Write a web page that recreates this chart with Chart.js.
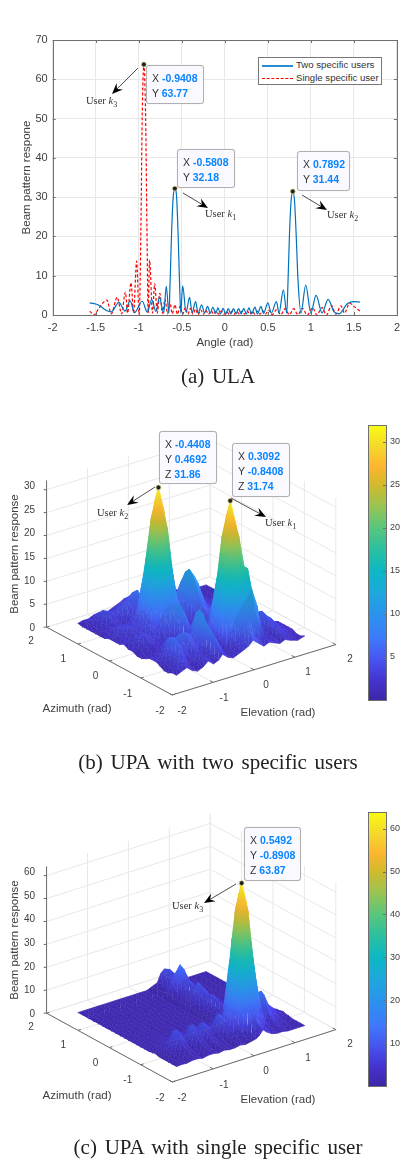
<!DOCTYPE html>
<html>
<head>
<meta charset="utf-8">
<script src="https://cdn.jsdelivr.net/npm/chart.js@4"></script>
<style>
html, body { margin: 0; background: #fff; }
#page { position: relative; width: 406px; height: 1161px; overflow: hidden; font-family: 'Liberation Sans', sans-serif; color: #404040; }
canvas { position: absolute; }
#page div { position: absolute; white-space: nowrap; }
.cap { font-family: 'Liberation Serif', serif; font-size: 21px; color: #222; word-spacing: 2.5px; transform: translate(-50%, -50%); }
.tick { font-size: 10px; transform: translate(-50%, -50%); }
.ztick { font-size: 10px; transform: translate(-100%, -50%); }
.atitle { font-size: 11.5px; transform: translate(-50%, -50%); }
.vtitle { font-size: 11.5px; transform: translate(-50%, -50%) rotate(-90deg); }
.user { font-family: 'Liberation Serif', serif; font-size: 10.5px; color: #333; transform: translateY(-50%); }
.user sub { font-size: 8px; }
.tip { box-sizing: border-box; background: #f9f9ff; border: 1px solid #b0b0b0; border-radius: 3px; font-size: 10.5px; line-height: 15px; padding: 5px 0 0 5px; color: #333; box-shadow: 0 0 1px #ccc; }
.tip b { color: #0a84ff; }
.legend { box-sizing: border-box; border: 1px solid #777; background: #fff; font-size: 9.6px; color: #333; }
</style>
</head>
<body>
<div id="page"></div>
<script>
// top panel, ULA
const blueX = [-1.57,-1.5,-1.45,-1.38,-1.32,-1.23,-1.16,-1.1,-1.05,-0.96,-0.9,-0.85,-0.8,-0.76,-0.71,-0.68,-0.65,-0.635,-0.617,-0.6,-0.5808,-0.56,-0.545,-0.527,-0.512,-0.49,-0.45,-0.41,-0.38,-0.34,-0.31,-0.27,-0.235,-0.2,-0.17,-0.14,-0.105,-0.08,-0.05,-0.02,0.01,0.04,0.07,0.1,0.13,0.16,0.19,0.22,0.25,0.28,0.31,0.35,0.38,0.42,0.45,0.5,0.54,0.6,0.63,0.68,0.72,0.735,0.752,0.77,0.7892,0.81,0.828,0.85,0.885,0.94,1.0,1.06,1.13,1.2,1.27,1.33,1.42,1.5,1.57];
const blueY = [3.1,2.8,2.3,1.2,0.8,3.2,1,3.6,0.6,3.5,0.7,3.9,0.9,4.5,0.5,7.3,0.5,9,22,30,32.18,30,22,9,0.5,7.4,0.7,4.5,0.6,3.4,0.5,2.6,0.5,2.2,0.4,2,0.4,1.8,0.3,1.7,0.3,1.6,0.3,1.6,0.3,1.6,0.3,1.7,0.3,1.8,0.3,2,0.3,2.2,0.4,3.1,0.5,3.4,0.5,6.4,0.5,9,21,29,31.44,29,21,9,0.5,7.6,0.5,5,0.5,4,0.8,0.3,2.8,3.4,3.3];
const redX = [-1.57,-1.52,-1.47,-1.37,-1.32,-1.25,-1.2,-1.155,-1.13,-1.09,-1.06,-1.025,-0.995,-0.975,-0.96,-0.9408,-0.92,-0.905,-0.89,-0.875,-0.84,-0.815,-0.785,-0.755,-0.725,-0.695,-0.665,-0.64,-0.61,-0.58,-0.55,-0.52,-0.49,-0.46,-0.43,-0.4,-0.37,-0.34,-0.31,-0.28,-0.25,-0.22,-0.19,-0.16,-0.13,-0.1,-0.07,-0.04,-0.01,0.02,0.05,0.08,0.11,0.14,0.17,0.2,0.23,0.26,0.29,0.32,0.35,0.38,0.41,0.44,0.47,0.51,0.55,0.6,0.65,0.7,0.75,0.8,0.85,0.9,0.96,1.02,1.07,1.13,1.18,1.24,1.29,1.35,1.39,1.45,1.5,1.57];
const redY = [1,0,1.5,3.8,0.3,4.5,0.3,5.8,0.5,8.2,0.5,13.7,0,22,50,63.77,50,22,0.5,14,0.5,8,0.4,5.5,0.4,4,0.3,3.3,0.3,2.6,0.2,2.2,0.2,1.9,0.2,1.7,0.2,1.5,0.1,1.3,0.2,1.2,0.2,1.1,0.2,1,0.2,1,0.2,0.9,0.2,0.9,0.2,0.9,0.2,1,0.2,1,0.2,1,0.2,1,0.2,1.1,0.2,1.2,0.1,1.3,0.1,1.6,0.1,1.6,0.1,1.7,0,1.8,0,1.9,0,2.4,0.2,2.3,0.5,3,2.2,1];
const ulaTipsX = [-0.9408, -0.5808, 0.7892];
const ulaTipsY = [63.77, 32.18, 31.44];
const ulaXTicks = [-2, -1.5, -1, -0.5, 0, 0.5, 1, 1.5, 2];

// panel b surface, rows follow azimuth, columns follow elevation
const elevationB = [-1.57,-1.44,-1.31,-1.18,-1.05,-0.92,-0.79,-0.66,-0.53,-0.44,-0.31,-0.18,-0.05,0.08,0.19,0.31,0.44,0.57,0.7,0.83,0.96,1.09,1.22,1.4,1.57];
const azimuthB = [-1.57,-1.44,-1.31,-1.18,-1.05,-0.94,-0.84,-0.74,-0.6,-0.46,-0.32,-0.18,-0.04,0.1,0.24,0.36,0.47,0.58,0.72,0.86,1,1.14,1.28,1.42,1.57];
const responseB = [
[1.5,2,2.5,1.5,1,1.5,2.5,1.5,2,3,2,1.5,2,2.5,3,4,3,2,2.5,2,1.5,2,1.5,1,1.5],
[1.5,2.5,3,2,1,2,3,2,2.5,4,2.5,1.5,2,3,4,6,4,3,3,2,2,2.5,2,1,1],
[1,2,3.5,3,1.5,2.5,3.5,2,3,6,3.5,1.5,2,3,4,6,7,8,5,1.5,2,3,2.5,1.5,1],
[1,1.5,3,5,2.5,2,3,2,3,7,4,1,2,5,8,9.5,11,13,9,2,2,3,3,2,1.5],
[1.5,2,3,6,4,3,4,3,4,8,4,1.5,2.5,11,17,20.6,18,17,10,3,2.5,4,3.5,2,1.5],
[2,2.5,3.5,6,5,5,5,4,6,9.5,5,2,3.5,16,24,28.6,24,17,8,3,3,5,4,2,1.5],
[2,2.5,3,6,5.5,6,6,5,7,10,6,2.5,3.5,17.5,26.6,31.74,26.4,18,9,4,3.5,5.5,4,2,1.5],
[2,2,2.5,5,4.5,5,5,4,6,9,5,2.5,3.5,16,24,28.6,23,14,7,3,3,5,3.5,2,1.5],
[1.5,1.5,2,3,3,3,3,3,4,6,4,2,3,10,15,17.5,14.5,9,5,2,2,3.5,3,1.5,1],
[1,1,1.5,2,2,2,2,2,3,4,3,1.5,2,4.5,7,8,6.5,4,2.5,1,1.5,2.5,2,1.5,1],
[1,1.5,2,2.5,2,2,2.5,3,5,8,5,2,2,3,6,8,5,3,2,1.5,2,2.5,2,1.5,1],
[1.5,2,2.5,3,2.5,2.5,3,4,6,9,6,2.5,1.5,2,3,4,3,2,1.5,2,2.5,3,2.5,1.5,1],
[1.5,2,3,3.5,3,3,4,6,8,8,5,2.5,1.5,2,3,5,4,2.5,2,2.5,3,3,2.5,1.5,1],
[2,2.5,3,3,3,4,3,5,7,8,6,3.5,2,2.5,4,6,5,3,2,2,2.5,2.5,2,1.5,1],
[1.5,2,2,2.5,3,4,4,11,17,18.5,15.4,8.7,3.5,4,7,9,7,4,2.5,2,2,2,1.5,1,1],
[1.5,2,2.5,3,3,3.5,5.5,16.5,25,27.7,23,13,4.5,5,9,11,9,5,3,2.5,2,2,1.5,1,1],
[1.5,2.5,3,3.5,3,3.5,6,19,29,31.86,26.5,15,5,6,10,12,10,6,3.5,3,2.5,2,1.5,1,1],
[1.5,2,3,3.5,3,3.5,5.5,16.5,25,27.7,23,13,4.5,5,9,11,9,5,3,2.5,2,2,1.5,1,1],
[1,2,2.5,3,2.5,3,4,10,15,16.6,13.8,7.8,3,3,6,8,6,3.5,2,2,2,2,1.5,1,1],
[1,1.5,2,2.5,2,2,3,4,5.5,6.5,5,3,2,2,4,5,4,2.5,2,2,2,1.5,1.5,1,1],
[1,1.5,2,3,3,3,4,4,5,6,4,2,2,2.5,3.5,5,4,3,2.5,2.5,2,1.5,1,1,1],
[1,1.5,2.5,4,4,4,5,5,6,7,4,2.5,2.5,3,3,4,3.5,3,3,3,2,1.5,1,1,1],
[1,1.5,2.5,4,3.5,3,3.5,4,5,6,4,2.5,2.5,2.5,3,3.5,3,3,3,2.5,2,1.5,1,1,1],
[1,1.5,2,3,2.5,2,2.5,3,3.5,4.5,3,2,2,2,2,3,2.5,2,2,2,1.5,1,1,1,1],
[1.2,1.5,1.5,2,2,1.5,2,2.5,3,3.5,2.5,2,2,2,2,2.5,2,2,2,2,1.5,1,1,1,1]
];
const tipsB = [[-0.4408, 0.4692, 31.86], [0.3092, -0.8408, 31.74]];

// panel c surface
const elevationC = [-1.57,-1.44,-1.31,-1.18,-1.05,-0.92,-0.79,-0.66,-0.53,-0.4,-0.27,-0.14,-0.01,0.12,0.25,0.38,0.46,0.55,0.64,0.77,0.9,1.03,1.16,1.36,1.57];
const azimuthC = [-1.57,-1.44,-1.31,-1.18,-1.05,-0.97,-0.89,-0.81,-0.7,-0.57,-0.44,-0.31,-0.18,-0.05,0.08,0.22,0.36,0.5,0.64,0.78,0.92,1.07,1.22,1.4,1.57];
const responseC = [
[1,1.2,1,1.5,1.5,1,1.5,1.5,1,1.5,1,1,1.5,1,1.5,2,3,5,3.5,2,1.5,1.5,1,1,1],
[1,1.2,1.5,1.5,1.5,1,1.5,1.5,1,1.5,1.5,1,1.5,1.5,2,3,4,6,4,2.5,2,2,1.5,1,1],
[1,1.2,1.5,2,2,1.5,1.5,2,1.5,2,1.5,1.5,2,2,3,5,7,9,7,4,3,3,2,1,1],
[1,1.5,2,2.5,3,2,2,3,2,3,2,2,3,3,5,11,14,16,14,8,4,5,3,1.5,1],
[1,1.5,2,4,5.5,3.5,3.5,5,3.5,4.5,3.5,3.5,5.5,4,10,30,40,44.7,40,22,8.5,9,5,2,1.5],
[1.2,2,2.5,5,8,5,5,8,5.5,7.5,5,5,8.5,6,13,40,52,58.8,52,29,11,13,7,3,1.5],
[1.5,2,3,6,9,6,6,9,6,8.5,6,6,10,7,14,43,57,63.87,57,32,12,14,8,4,2],
[1.2,2,2.5,5,8,5,5,8,5.5,7.5,5,5,8.5,6,13,40,52,58.8,52,29,11,13,7,3,1.5],
[1,1.5,2,3.5,5,3.5,3.5,5,3.5,4.5,3.5,3.5,5.5,4,8.5,26,34,38,34,19,7,8,4.5,2,1.5],
[1,1.2,1.5,2,2.5,2,2,2.5,2,2.5,2,2,3,2.5,3.5,7,9,10,9,5,3,3.5,2,1,1],
[1,1,1.2,1.2,1.5,1,1.2,1.5,1.2,1.5,1.2,1.2,1.5,1.5,2,3,4,5,4,2.5,1.5,1.5,1,1,1],
[1,1,1.2,1.5,1.2,1,1.2,1.2,1,1.2,1,1,1.2,1.2,2,3,5,6,5,3,1.5,1.2,1,1,1],
[1,1,1,1.2,1.2,1,1,1.2,1,1.2,1,1,1.2,1.2,2,3,5,6,5,3,1.5,1.2,1,1,1],
[1,1,1,1,1.2,1,1,1.2,1,1,1,1,1,1.2,2,3,5.5,7,5.5,3,1.5,1.2,1,1,1],
[1,1,1,1,1,1,1,1,1,1,1,1,1,1.2,2,3.5,6.5,8,6.5,3.5,1.5,1,1,1,1],
[1,1,1,1,1,1,1,1,1,1,1,1,1,1,1.5,2.5,5,6,5,2.5,1.2,1,1,1,1],
[1,1,1,1,1,1,1,1,1,1,1,1,1,1.2,2,3.5,7,9,7,3.5,1.5,1,1,1,1],
[1,1,1,1,1,1,1,1,1,1,1,1,1,1.2,2.5,4,8,10,8,4,1.5,1,1,1,1],
[1,1,1,1,1,1,1,1,1,1,1,1,1,1,2,3,5.5,7,5.5,3,1.2,1,1,1,1],
[1,1,1,1,1,1,1,1,1,1,1,1,1,1,2,3.5,7,9,7,3.5,1.2,1,1,1,1],
[1,1,1,1,1,1,1,1,1,1,1,1,1,1,2,3,6.5,8,6.5,3,1.2,1,1,1,1],
[1,1,1,1,1,1,1,1,1,1,1,1,1,1.2,3,5.5,11,13.5,11,5.5,1.5,1,1,1,1],
[1,1,1,1,1,1,1,1,1,1,1,1,1,1,2,3,6.5,8,6.5,3,1.2,1,1,1,1],
[1,1,1,1,1,1,1,1,1,1,1,1,1,1,2,3.5,7,9,7,3.5,1.2,1,1,1,1],
[1,1,1,1,1,1,1,1,1,1,1,1,1,1,2,3,6.5,8,6,3,1.2,1,1,1,1]
];
const tipsC = [[0.5492, -0.8908, 63.87]];

const axisTicks3d = [-2, -1, 0, 1, 2];
const zTicksB = [0, 5, 10, 15, 20, 25, 30];
const zTicksC = [0, 10, 20, 30, 40, 50, 60];

const page = document.getElementById('page');
const TICK_COLOR = '#404040', FRAME = '#707070', GRID3D = '#e8e8e8';

// colormap of the surfaces and colorbars
const cmapStops = [[0,'#3e26a8'],[0.07,'#4433ce'],[0.14,'#4751ee'],[0.22,'#3f78fb'],[0.31,'#2b92ee'],[0.39,'#1ea8dc'],[0.47,'#0cb8c4'],[0.55,'#2cc09f'],[0.63,'#5cc67a'],[0.71,'#9cc450'],[0.78,'#d0b92e'],[0.85,'#fdb62f'],[0.92,'#f5d82b'],[1,'#f9fb15']];
const hex = h => [1, 3, 5].map(i => parseInt(h.substr(i, 2), 16));
function colorAt(t, shade) {
    t = Math.max(0, Math.min(1, t));
    let i = 0;
    while (i < cmapStops.length - 2 && t > cmapStops[i + 1][0]) i++;
    const a = cmapStops[i], b = cmapStops[i + 1];
    const f = (t - a[0]) / (b[0] - a[0]);
    const ca = hex(a[1]), cb = hex(b[1]);
    const s = shade || 1;
    const c = ca.map((v, k) => Math.min(255, Math.round((v + (cb[k] - v) * f) * s)));
    return 'rgb(' + c.join(',') + ')';
}

function addHtml(cls, x, y, html, extra) {
    const d = document.createElement('div');
    d.className = cls;
    d.style.left = x + 'px';
    d.style.top = y + 'px';
    d.innerHTML = html;
    if (extra) Object.assign(d.style, extra);
    page.appendChild(d);
    return d;
}

function addCanvas(x, y, w, h) {
    const c = document.createElement('canvas');
    c.width = w; c.height = h;
    c.style.left = x + 'px'; c.style.top = y + 'px';
    c.style.width = w + 'px'; c.style.height = h + 'px';
    page.appendChild(c);
    return c;
}

// box and inward ticks, matlab style
const framePlugin = {
    id: 'frame',
    afterDraw(chart) {
        const { ctx, chartArea: a, scales } = chart;
        ctx.save();
        ctx.strokeStyle = FRAME; ctx.lineWidth = 1;
        ctx.strokeRect(Math.round(a.left) + 0.5, Math.round(a.top) + 0.5, Math.round(a.right - a.left), Math.round(a.bottom - a.top));
        ctx.beginPath();
        if (scales.x && scales.x.options.display) scales.x.ticks.forEach(t => {
            const p = Math.round(scales.x.getPixelForValue(t.value)) + 0.5;
            ctx.moveTo(p, a.bottom); ctx.lineTo(p, a.bottom - 3);
            ctx.moveTo(p, a.top); ctx.lineTo(p, a.top + 3);
        });
        scales.y.ticks.forEach(t => {
            const p = Math.round(scales.y.getPixelForValue(t.value)) + 0.5;
            ctx.moveTo(a.right, p); ctx.lineTo(a.right - 3, p);
            if (chart.config.type === 'line') { ctx.moveTo(a.left, p); ctx.lineTo(a.left + 3, p); }
        });
        ctx.stroke();
        ctx.restore();
    }
};

const zip = (xs, ys) => xs.map((x, i) => ({ x, y: ys[i] }));

function renderUla() {
    const canvas = addCanvas(0, 25, 406, 330);
    new Chart(canvas, {
        type: 'line',
        data: {
            datasets: [
                { label: 'markers', data: zip(ulaTipsX, ulaTipsY), showLine: false, pointRadius: 2.4, pointBackgroundColor: '#222', pointBorderColor: '#cfc87a', pointBorderWidth: 0.7 },
                { label: 'Two specific users', data: zip(blueX, blueY), borderColor: '#0072bd', borderWidth: 1.2, pointRadius: 0, cubicInterpolationMode: 'monotone' },
                { label: 'Single specific user', data: zip(redX, redY), borderColor: '#ff0000', borderWidth: 1.2, borderDash: [3, 2], pointRadius: 0, cubicInterpolationMode: 'monotone' },
            ],
        },
        options: {
            responsive: false, animation: false,
            layout: { padding: { top: 15, right: 6, bottom: 5, left: 0 } },
            plugins: { legend: { display: false }, tooltip: { enabled: false } },
            scales: {
                x: {
                    type: 'linear', min: -2, max: 2,
                    afterBuildTicks: s => { s.ticks = ulaXTicks.map(value => ({ value })); },
                    afterFit: s => { s.height = 35; },
                    ticks: { color: TICK_COLOR, font: { size: 11, family: 'Liberation Sans' }, padding: 6, maxRotation: 0, autoSkip: false, callback: v => String(v) },
                    grid: { color: '#e8e8e8', drawTicks: false }, border: { display: false },
                    title: { display: true, text: 'Angle (rad)', color: TICK_COLOR, font: { size: 11.5, family: 'Liberation Sans' }, padding: { top: 1, bottom: 0 } },
                },
                y: {
                    min: 0, max: 70,
                    afterFit: s => { s.width = 52.7; },
                    ticks: { color: TICK_COLOR, font: { size: 11, family: 'Liberation Sans' }, padding: 5, stepSize: 10 },
                    grid: { color: '#e8e8e8', drawTicks: false }, border: { display: false },
                    title: { display: true, text: 'Beam pattern respone', color: TICK_COLOR, font: { size: 11.5, family: 'Liberation Sans' }, padding: { top: 20, bottom: 0 } },
                },
            },
        },
        plugins: [framePlugin],
    });

    // legend
    const lg = addHtml('legend', 258, 57, '', { width: '124px', height: '28px' });
    lg.innerHTML = '<div style="left:3px;top:7px;width:31px;border-top:2px solid #2a8cd0"></div>' +
        '<div style="left:37px;top:1px">Two specific users</div>' +
        '<div style="left:3px;top:20px;width:31px;border-top:1.2px dashed #ff0000"></div>' +
        '<div style="left:37px;top:14px">Single specific user</div>';
}

function renderSurface(opts) {
    const { top, height, front, left, right, zScale, zTop, zTicks, elevation, azimuth, response, tips, zMax } = opts;
    const canvas = addCanvas(0, top, 360, height);
    const ctx = canvas.getContext('2d');
    const project = (e, a, z) => {
        const u = (e + 2) / 4, v = (a + 2) / 4;
        return {
            x: front[0] + u * (right[0] - front[0]) + v * (left[0] - front[0]),
            y: front[1] + u * (right[1] - front[1]) + v * (left[1] - front[1]) - z * zScale,
        };
    };
    const sets = [];

    // tips first so they land on top
    sets.push({ data: tips.map(t => project(t[0], t[1], t[2])), showLine: false, pointRadius: 2.4, pointBackgroundColor: '#222', pointBorderColor: '#cfc87a', pointBorderWidth: 0.7 });

    // a flat triangle has z linear on screen, so one linear gradient shades it exactly
    function triangle(v, shade) {
        const zs = v.map(k => k.z);
        const lo = Math.min(...zs), hi = Math.max(...zs);
        const [a, b, c] = v.map(k => k.p);
        const dx1 = b.x - a.x, dy1 = b.y - a.y, dz1 = zs[1] - zs[0];
        const dx2 = c.x - a.x, dy2 = c.y - a.y, dz2 = zs[2] - zs[0];
        const det = dx1 * dy2 - dx2 * dy1;
        let paint = colorAt((lo + hi) / 2 / zMax, shade);
        if (hi - lo >= 0.4 && Math.abs(det) >= 1) {
            const gx = (dz1 * dy2 - dz2 * dy1) / det, gy = (dx1 * dz2 - dx2 * dz1) / det;
            const g2 = gx * gx + gy * gy;
            const s = v[zs.indexOf(lo)].p;
            const k = (hi - lo) / g2;
            // a very short gradient line on a sliver paints nothing, keep the flat colour there
            if (Math.hypot(gx * k, gy * k) >= 1.5) {
                paint = ctx.createLinearGradient(s.x, s.y - top, s.x + gx * k, s.y - top + gy * k);
                const n = Math.max(2, Math.ceil((hi - lo) / zMax * 14));
                for (let i = 0; i <= n; i++) paint.addColorStop(i / n, colorAt((lo + (hi - lo) * i / n) / zMax, shade));
            }
        }
        // round joins, thin triangles throw long miter spikes otherwise
        sets.push({ data: v.map(k => k.p), backgroundColor: paint, borderColor: paint, borderWidth: 0.7, borderJoinStyle: 'round', pointRadius: 0, fill: 'shape' });
    }

    // quads, nearest first because chart.js paints the list backwards
    for (let r = 0; r < azimuth.length - 1; r++) {
        for (let c = 0; c < elevation.length - 1; c++) {
            const corners = [[c, r], [c + 1, r], [c + 1, r + 1], [c, r + 1]].map(([i, j]) => {
                const z = response[j][i];
                return { z, p: project(elevation[i], azimuth[j], z) };
            });
            const zs = corners.map(k => k.z);
            const span = Math.max(...zs) - Math.min(...zs);
            const dzde = ((zs[1] + zs[2]) - (zs[0] + zs[3])) / 2 / (elevation[c + 1] - elevation[c]);
            const dzda = ((zs[2] + zs[3]) - (zs[0] + zs[1])) / 2 / (azimuth[r + 1] - azimuth[r]);
            let sh = Math.max(-0.08, Math.min(0.1, -0.012 * dzde - 0.008 * dzda));
            if (span > 6) sh *= 0.25;
            const shade = 1 + sh;
            triangle([corners[0], corners[1], corners[2]], shade);
            triangle([corners[0], corners[2], corners[3]], shade);
        }
    }

    // front axes and their ticks
    const dark = '#6a6a6a';
    const seg = (a, b, color) => sets.push({ data: [a, b], borderColor: color, borderWidth: 1, pointRadius: 0 });
    seg(project(-2, 2, 0), project(-2, -2, 0), dark);
    seg(project(-2, -2, 0), project(2, -2, 0), dark);
    seg(project(-2, 2, 0), project(-2, 2, zTop), dark);
    axisTicks3d.forEach(t => {
        seg(project(-2, t, 0), project(-1.93, t, 0), dark);
        seg(project(t, -2, 0), project(t, -1.9, 0), dark);
    });
    zTicks.forEach(t => {
        const p = project(-2, 2, t);
        seg(p, { x: p.x - 3, y: p.y }, dark);
    });

    // walls and floor grid
    axisTicks3d.forEach(t => {
        seg(project(t, -2, 0), project(t, 2, 0), GRID3D);
        seg(project(-2, t, 0), project(2, t, 0), GRID3D);
        seg(project(t, 2, 0), project(t, 2, zTop), GRID3D);
        seg(project(2, t, 0), project(2, t, zTop), GRID3D);
    });
    zTicks.forEach(t => {
        seg(project(-2, 2, t), project(2, 2, t), GRID3D);
        seg(project(2, 2, t), project(2, -2, t), GRID3D);
    });

    new Chart(canvas, {
        type: 'line',
        data: { datasets: sets },
        options: {
            responsive: false, animation: false,
            layout: { padding: 0 },
            plugins: { legend: { display: false }, tooltip: { enabled: false } },
            scales: {
                x: { type: 'linear', display: false, min: 0, max: 360 },
                y: { type: 'linear', display: false, min: top, max: top + height, reverse: true },
            },
        },
    });

    // tick labels of the 3d axes
    axisTicks3d.forEach(t => {
        const a = project(-2, t, 0), e = project(t, -2, 0);
        addHtml('tick', a.x - 12, a.y + 11, String(t));
        addHtml('tick', e.x + 10, e.y + 11, String(t));
    });
    zTicks.forEach(t => {
        const p = project(-2, 2, t);
        addHtml('ztick', p.x - 8, p.y - 2, String(t));
    });
    addHtml('atitle', 77, front[1] + 9, 'Azimuth (rad)');
    addHtml('atitle', 278, front[1] + 13, 'Elevation (rad)');
    addHtml('vtitle', 13.5, opts.titleY, 'Beam pattern response');
}

function renderColorbar(top, height, zMax, step) {
    const canvas = addCanvas(340, top - 10, 66, height + 20);
    new Chart(canvas, {
        type: 'bar',
        data: {
            labels: ['level'],
            datasets: [{
                data: [[0, zMax]], barPercentage: 1, categoryPercentage: 1, borderWidth: 0,
                backgroundColor: c => {
                    const area = c.chart.chartArea;
                    if (!area) return '#3e26a8';
                    const g = c.chart.ctx.createLinearGradient(0, area.bottom, 0, area.top);
                    cmapStops.forEach(s => g.addColorStop(s[0], s[1]));
                    return g;
                },
            }],
        },
        options: {
            responsive: false, animation: false,
            layout: { padding: { top: 10, bottom: 10, left: 28, right: 0 } },
            plugins: { legend: { display: false }, tooltip: { enabled: false } },
            scales: {
                x: { display: false },
                y: {
                    position: 'right', min: 0, max: zMax,
                    afterFit: s => { s.width = 20; },
                    ticks: { stepSize: step, includeBounds: false, color: TICK_COLOR, font: { size: 9, family: 'Liberation Sans' }, padding: 4, callback: v => v === 0 ? null : v },
                    grid: { display: false, drawTicks: false }, border: { display: false },
                },
            },
        },
        plugins: [framePlugin],
    });
}

function tipBox(x, y, w, h, rows) {
    addHtml('tip', x, y, rows.map(r => r[0] + ' <b>' + r[1] + '</b>').join('<br>'), { width: w + 'px', height: h + 'px' });
}

function userLabel(x, y, n) {
    addHtml('user', x, y, 'User <i>k</i><sub>' + n + '</sub>');
}

// arrows with a stealth head, in page pixels
function addArrows(list) {
    const ns = 'http://www.w3.org/2000/svg';
    const svg = document.createElementNS(ns, 'svg');
    svg.setAttribute('width', 406); svg.setAttribute('height', 1161);
    svg.style.position = 'absolute'; svg.style.left = 0; svg.style.top = 0;
    list.forEach(([x1, y1, x2, y2]) => {
        const len = Math.hypot(x2 - x1, y2 - y1), ux = (x2 - x1) / len, uy = (y2 - y1) / len;
        const px = -uy, py = ux, L = 11, W = 4.5;
        const line = document.createElementNS(ns, 'line');
        line.setAttribute('x1', x1); line.setAttribute('y1', y1); line.setAttribute('x2', x2 - ux * 6); line.setAttribute('y2', y2 - uy * 6);
        line.setAttribute('stroke', '#222'); line.setAttribute('stroke-width', 0.8);
        svg.appendChild(line);
        const head = document.createElementNS(ns, 'path');
        const bx = x2 - ux * L, by = y2 - uy * L;
        head.setAttribute('d', `M${x2} ${y2}L${bx + px * W} ${by + py * W}L${x2 - ux * 7} ${y2 - uy * 7}L${bx - px * W} ${by - py * W}Z`);
        head.setAttribute('fill', '#000');
        svg.appendChild(head);
    });
    page.appendChild(svg);
}

renderUla();
renderSurface({ top: 420, height: 300, front: [172, 699], left: [43, 629], right: [340, 647], zScale: 4.73, zTop: 32, zTicks: zTicksB, elevation: elevationB, azimuth: azimuthB, response: responseB, tips: tipsB, zMax: 31.93, titleY: 554 });
renderSurface({ top: 807, height: 300, front: [172, 1086], left: [43, 1015], right: [340, 1032], zScale: 2.367, zTop: 64, zTicks: zTicksC, elevation: elevationC, azimuth: azimuthC, response: responseC, tips: tipsC, zMax: 63.9, titleY: 940 });
renderColorbar(425, 275, 31.93, 5);
renderColorbar(812, 274, 63.9, 10);

tipBox(146, 65, 58, 39, [['X', '-0.9408'], ['Y', '63.77']]);
tipBox(177, 149, 58, 39, [['X', '-0.5808'], ['Y', '32.18']]);
tipBox(297, 151, 53, 40, [['X', '0.7892'], ['Y', '31.44']]);
tipBox(159, 431, 58, 53, [['X', '-0.4408'], ['Y', '0.4692'], ['Z', '31.86']]);
tipBox(232, 443, 58, 54, [['X', '0.3092'], ['Y', '-0.8408'], ['Z', '31.74']]);
tipBox(244, 827, 57, 54, [['X', '0.5492'], ['Y', '-0.8908'], ['Z', '63.87']]);

userLabel(86, 102, 3);
userLabel(205, 215, 1);
userLabel(327, 216, 2);
userLabel(97, 514, 2);
userLabel(265, 524, 1);
userLabel(172, 907, 3);
addArrows([[138, 68, 112, 94], [183, 193, 208, 208], [302, 195, 327, 210], [155, 487, 127, 505], [231, 498, 266, 517], [236, 884, 204, 903]]);

addHtml('cap', 218, 376, '(a) ULA');
addHtml('cap', 218, 762, '(b) UPA with two specific users');
addHtml('cap', 218, 1147, '(c) UPA with single specific user');
</script>
</body>
</html>
